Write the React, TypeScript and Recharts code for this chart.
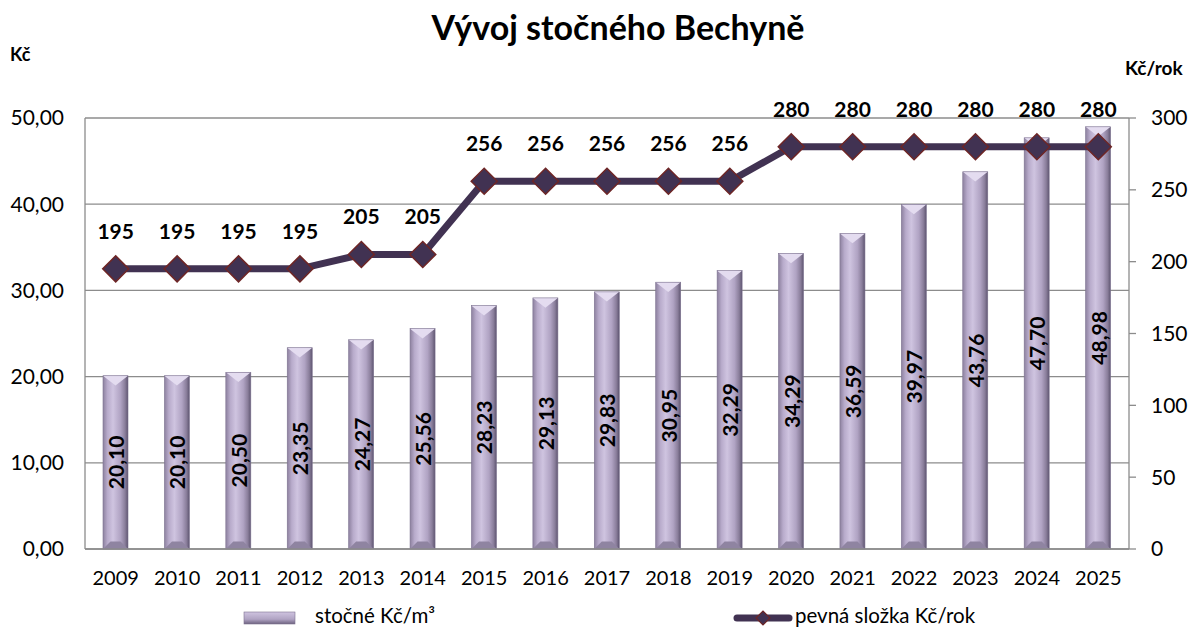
import React from "react";
import {
  ComposedChart,
  Bar,
  Line,
  XAxis,
  YAxis,
  CartesianGrid,
  LabelList,
} from "recharts";

const years = ["2009", "2010", "2011", "2012", "2013", "2014", "2015", "2016", "2017", "2018", "2019", "2020", "2021", "2022", "2023", "2024", "2025"];
const stocne = [20.1, 20.1, 20.5, 23.35, 24.27, 25.56, 28.23, 29.13, 29.83, 30.95, 32.29, 34.29, 36.59, 39.97, 43.76, 47.7, 48.98];
const pevna = [195, 195, 195, 195, 205, 205, 256, 256, 256, 256, 256, 280, 280, 280, 280, 280, 280];
const leftTicks = [0, 10, 20, 30, 40, 50];
const rightTicks = [0, 50, 100, 150, 200, 250, 300];

const data = years.map((y, i) => ({ year: y, stocne: stocne[i], pevna: pevna[i] }));

const FONT = "Lato, 'Open Sans', sans-serif";
const LINE = "#413252";
const MARK_STROKE = "#6e2626";

const fmt = (v: number) => v.toFixed(2).replace(".", ",");

const BarShape = (props: any) => {
  const { x, y, width, height } = props;
  if (height <= 0) return null;
  const b = width * 0.3;
  return (
    <g>
      <rect x={x} y={y} width={width} height={height} fill="url(#barGrad)" />
      <polygon points={`${x},${y} ${x + width},${y} ${x + width / 2},${y + b * 1.3}`} fill="#e4dcf0" />
      <polygon points={`${x},${y + height} ${x + width},${y + height} ${x + width - b},${y + height - b} ${x + b},${y + height - b}`} fill="#8f84a1" />
      <rect x={x} y={y} width={width} height={height} fill="none" stroke="#7d7290" strokeWidth={0.6} />
    </g>
  );
};

const Diamond = (props: any) => {
  const { cx, cy } = props;
  if (cx == null || cy == null) return null;
  const s = 13;
  return (
    <polygon
      key={`d-${cx}`}
      points={`${cx - s},${cy} ${cx},${cy - s} ${cx + s},${cy} ${cx},${cy + s}`}
      fill={LINE}
      stroke={MARK_STROKE}
      strokeWidth={1.5}
    />
  );
};

const BarLabel = (props: any) => {
  const { x, y, width, height, value } = props;
  const cx = x + width / 2;
  const cy = y + height / 2;
  return (
    <text
      x={cx}
      y={cy}
      transform={`rotate(-90 ${cx} ${cy})`}
      textAnchor="middle"
      dominantBaseline="central"
      fontFamily={FONT}
      fontWeight={700}
      fontSize={21}
      fill="#000"
    >
      {fmt(value)}
    </text>
  );
};

const LineLabel = (props: any) => {
  const { x, y, value } = props;
  return (
    <text x={x} y={y - 30} textAnchor="middle" fontFamily={FONT} fontWeight={700} fontSize={21} fill="#000">
      {value}
    </text>
  );
};

export default function App() {
  return (
    <div style={{ position: "absolute", left: 0, top: 0, width: 1193, height: 630, background: "#fff", fontFamily: FONT }}>
      <div style={{ position: "absolute", left: 0, width: 1236, top: 6, textAlign: "center", fontSize: 34, fontWeight: 700, color: "#000" }}>
        Vývoj stočného Bechyně
      </div>
      <div style={{ position: "absolute", left: 10, top: 43, fontSize: 18, fontWeight: 700 }}>Kč</div>
      <div style={{ position: "absolute", left: 1125, top: 56, fontSize: 19, fontWeight: 700 }}>Kč/rok</div>
      <ComposedChart
        width={1193}
        height={630}
        data={data}
        margin={{ top: 118, right: 0, bottom: 0, left: 0 }}
        barCategoryGap={0}
      >
        <defs>
          <linearGradient id="barGrad" x1="0" y1="0" x2="1" y2="0">
            <stop offset="0%" stopColor="#8d819f" />
            <stop offset="18%" stopColor="#b8abcb" />
            <stop offset="40%" stopColor="#cfc4e0" />
            <stop offset="70%" stopColor="#b0a3c3" />
            <stop offset="88%" stopColor="#8a7e9b" />
            <stop offset="100%" stopColor="#5e5570" />
          </linearGradient>
        </defs>
        <CartesianGrid yAxisId="left" vertical={false} stroke="#8c8c8c" strokeWidth={1.3} />
        <XAxis
          dataKey="year"
          height={81}
          axisLine={{ stroke: "#8c8c8c", strokeWidth: 1.3 }}
          tickLine={false}
          tickSize={0}
          tickMargin={22}
          tick={{ fill: "#000", fontSize: 20, fontFamily: FONT }}
          interval={0}
        />
        <YAxis
          yAxisId="left"
          width={85}
          domain={[0, 50]}
          ticks={leftTicks}
          tickFormatter={fmt}
          axisLine={{ stroke: "#8c8c8c", strokeWidth: 1.3 }}
          tickLine={false}
          tickSize={0}
          tickMargin={21}
          tick={{ fill: "#000", fontSize: 21, fontFamily: FONT }}
          interval={0}
        />
        <YAxis
          yAxisId="right"
          orientation="right"
          width={64}
          domain={[0, 300]}
          ticks={rightTicks}
          axisLine={{ stroke: "#8c8c8c", strokeWidth: 1.3 }}
          tickLine={{ stroke: "#8c8c8c", strokeWidth: 1.3 }}
          tickSize={7}
          tickMargin={15}
          tick={{ fill: "#000", fontSize: 21, fontFamily: FONT }}
          interval={0}
        />
        <Bar yAxisId="left" dataKey="stocne" barSize={25} shape={<BarShape />} isAnimationActive={false}>
          <LabelList dataKey="stocne" content={<BarLabel />} />
        </Bar>
        <Line
          yAxisId="right"
          dataKey="pevna"
          type="linear"
          stroke={LINE}
          strokeWidth={7}
          dot={<Diamond />}
          activeDot={false}
          isAnimationActive={false}
        >
          <LabelList dataKey="pevna" content={<LineLabel />} />
        </Line>
      </ComposedChart>
      <svg style={{ position: "absolute", left: 0, top: 600 }} width={1193} height={30}>
        <defs>
          <linearGradient id="legGrad" x1="0" y1="0" x2="0" y2="1">
            <stop offset="0%" stopColor="#cfc4e0" />
            <stop offset="60%" stopColor="#b0a3c3" />
            <stop offset="100%" stopColor="#6e6380" />
          </linearGradient>
        </defs>
        <rect x={244} y={12} width={51} height={12} fill="url(#legGrad)" stroke="#7d7290" strokeWidth={0.6} />
        <line x1={737} y1={18} x2={789} y2={18} stroke={LINE} strokeWidth={7} strokeLinecap="round" />
        <polygon points={`${756},18 ${763},11 ${770},18 ${763},25`} fill={LINE} stroke={MARK_STROKE} strokeWidth={1.2} />
      </svg>
      <div style={{ position: "absolute", left: 315, top: 603, fontSize: 20.5, color: "#000" }}>
        stočné Kč/m³
      </div>
      <div style={{ position: "absolute", left: 795, top: 603, fontSize: 20.5, color: "#000" }}>
        pevná složka Kč/rok
      </div>
    </div>
  );
}
